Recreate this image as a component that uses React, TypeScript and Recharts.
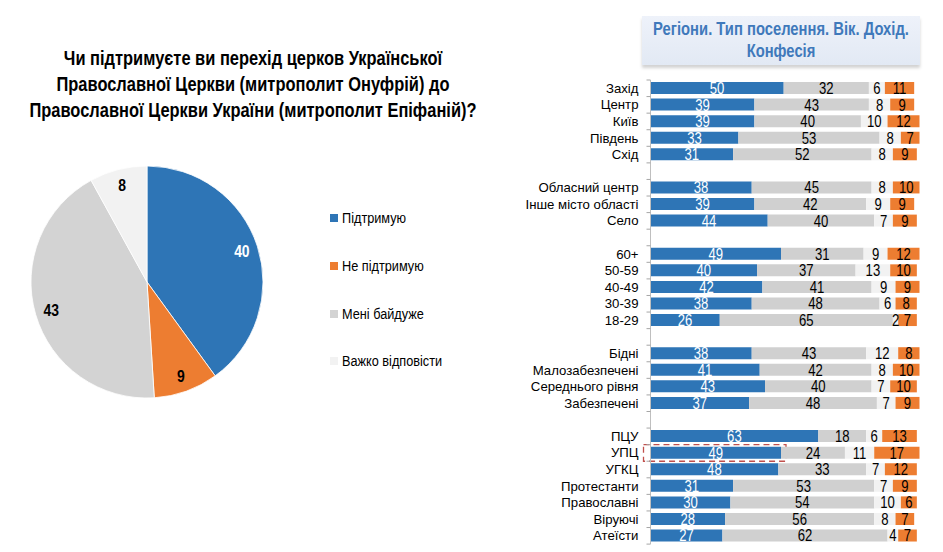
import React from "react";
import {
  BarChart,
  Bar,
  XAxis,
  YAxis,
  LabelList,
  ReferenceArea,
  PieChart,
  Pie,
  Cell,
  Legend,
} from "recharts";

// Pie: overall answers
const pieLabels = ["Підтримую", "Не підтримую", "Мені байдуже", "Важко відповісти"];
const pieValues = [40, 9, 43, 8];

// Bars: groups, empty string = spacer row
const categories = [
  "Захід", "Центр", "Київ", "Південь", "Схід", "",
  "Обласний центр", "Інше місто області", "Село", "",
  "60+", "50-59", "40-49", "30-39", "18-29", "",
  "Бідні", "Малозабезпечені", "Середнього рівня", "Забезпечені", "",
  "ПЦУ", "УПЦ", "УГКЦ", "Протестанти", "Православні", "Віруючі", "Атеїсти",
];
const support = [50, 39, 39, 33, 31, null, 38, 39, 44, null, 49, 40, 42, 38, 26, null, 38, 41, 43, 37, null, 63, 49, 48, 31, 30, 28, 27];
const indifferent = [32, 43, 40, 53, 52, null, 45, 42, 40, null, 31, 37, 41, 48, 65, null, 43, 42, 40, 48, null, 18, 24, 33, 53, 54, 56, 62];
const hardToSay = [6, 8, 10, 8, 8, null, 8, 9, 7, null, 9, 13, 9, 6, 2, null, 12, 8, 7, 7, null, 6, 11, 7, 7, 10, 8, 4];
const against = [11, 9, 12, 7, 9, null, 10, 9, 9, null, 12, 10, 9, 8, 7, null, 8, 10, 10, 9, null, 13, 17, 12, 9, 6, 7, 7];
const highlighted = "УПЦ";

const BLUE = "#2E75B6";
const ORANGE = "#ED7D31";
const GRAY = "#D0D0D0";
const LIGHT = "#F2F2F2";
const PIE_COLORS = [BLUE, ORANGE, "#D3D3D3", LIGHT];

// no narrow font installed: Liberation Sans squeezed horizontally instead
const SANS = "'Liberation Sans', Arial, sans-serif";
const SQUEEZE = 0.82;

const barData = categories.map((name, i) => ({
  id: name || `gap${i}`,
  name,
  support: support[i],
  indifferent: indifferent[i],
  hard: hardToSay[i],
  against: against[i],
}));

const pieData = pieLabels.map((name, i) => ({ name, value: pieValues[i] }));

const BAR_W = 443;
const BAR_H = 552;
const barMargin = { top: 80, right: 23.5, bottom: 7.9, left: 0 };
const band = (BAR_H - barMargin.top - barMargin.bottom) / categories.length;

function NarrowText(props: any) {
  const { x, y, fill, size, bold, children } = props;
  return (
    <text
      transform={`translate(${x},${y}) scale(${SQUEEZE},1)`}
      textAnchor="middle"
      dominantBaseline="central"
      fontSize={size}
      fontWeight={bold ? "bold" : "normal"}
      fontFamily={SANS}
      fill={fill}
    >
      {children}
    </text>
  );
}

function CategoryTick(props: any) {
  const { x, y, payload, index } = props;
  const row = barData.find((d) => d.id === payload.value);
  const half = band / 2;
  return (
    <g>
      {row && row.name ? (
        <text x={x} y={y} dy={4.5} textAnchor="end" fontSize={13.2} fontFamily={SANS} fill="#000">
          {row.name}
        </text>
      ) : null}
      <line x1={x + 8} x2={x + 12} y1={y - half} y2={y - half} stroke="#A6A6A6" />
      {index === categories.length - 1 ? (
        <line x1={x + 8} x2={x + 12} y1={y + half} y2={y + half} stroke="#A6A6A6" />
      ) : null}
    </g>
  );
}

const valueLabel = (fill: string) => (props: any) => {
  const vb = props.viewBox || props;
  if (props.value == null) return null;
  return (
    <NarrowText x={vb.x + vb.width / 2} y={vb.y + vb.height / 2 + 0.5} fill={fill} size={16}>
      {props.value}
    </NarrowText>
  );
};

const RADIAN = Math.PI / 180;
function PieLabel(props: any) {
  const { cx, cy, midAngle, outerRadius, value, index } = props;
  const r = outerRadius * 0.86;
  const x = cx + r * Math.cos(-midAngle * RADIAN);
  const y = cy + r * Math.sin(-midAngle * RADIAN);
  return (
    <NarrowText x={x} y={y} fill={index === 0 ? "#fff" : "#000"} size={17} bold>
      {value}
    </NarrowText>
  );
}

function PieLegend() {
  return (
    <div>
      {pieData.map((d, i) => (
        <div
          key={d.name}
          style={{ display: "flex", alignItems: "center", height: 20, marginBottom: 27.8 }}
        >
          <span style={{ width: 8, height: 8, background: PIE_COLORS[i], marginRight: 4 }} />
          <span
            style={{
              fontFamily: SANS,
              fontSize: 15.5,
              color: "#000",
              display: "inline-block",
              whiteSpace: "nowrap",
              transform: `scaleX(${SQUEEZE})`,
              transformOrigin: "left center",
            }}
          >
            {d.name}
          </span>
        </div>
      ))}
    </div>
  );
}

function HighlightBox(props: any) {
  const { x, y, width, height } = props;
  return (
    <rect
      x={x - 7}
      y={y}
      width={width + 12}
      height={height}
      fill="none"
      stroke="#C0504D"
      strokeWidth={1.3}
      strokeDasharray="6 4"
    />
  );
}

export default function App() {
  const upcRow = barData.find((d) => d.name === highlighted)!;
  return (
    <div style={{ position: "absolute", left: 0, top: 0, width: 943, height: 552, background: "#fff" }}>
      <div
        style={{
          position: "absolute",
          left: -47,
          top: 45,
          width: 600,
          textAlign: "center",
          whiteSpace: "nowrap",
          fontFamily: SANS,
          fontWeight: "bold",
          fontSize: 19.5,
          lineHeight: "26px",
          color: "#000",
          transform: "scaleX(0.843)",
          transformOrigin: "center",
        }}
      >
        Чи підтримуєте ви перехід церков Української
        <br />
        Православної Церкви (митрополит Онуфрій) до
        <br />
        Православної Церкви України (митрополит Епіфаній)?
      </div>

      <div style={{ position: "absolute", left: 0, top: 0 }}>
        <PieChart width={500} height={552} margin={{ top: 0, right: 0, bottom: 0, left: 0 }}>
          <Pie
            data={pieData}
            dataKey="value"
            nameKey="name"
            cx={147}
            cy={282}
            outerRadius={116}
            startAngle={90}
            endAngle={-270}
            stroke="#fff"
            strokeWidth={0.8}
            label={PieLabel}
            labelLine={false}
            isAnimationActive={false}
          >
            {pieData.map((d, i) => (
              <Cell key={d.name} fill={PIE_COLORS[i]} />
            ))}
          </Pie>
          <Legend
            content={<PieLegend />}
            layout="vertical"
            wrapperStyle={{ position: "absolute", left: 330, top: 208, width: 160 }}
          />
        </PieChart>
      </div>

      <div
        style={{
          position: "absolute",
          left: 642,
          top: 16,
          width: 278,
          height: 49,
          background: "linear-gradient(#EEF2FA, #E2E9F4)",
          boxShadow: "0 3px 3px rgba(0,0,0,0.18)",
        }}
      >
        <div
          style={{
            position: "absolute",
            left: -100,
            top: 3,
            width: 478,
            textAlign: "center",
            whiteSpace: "nowrap",
            fontFamily: SANS,
            fontWeight: "bold",
            fontSize: 17.5,
            lineHeight: "21.5px",
            color: "#3F79BB",
            transform: "scaleX(0.845)",
            transformOrigin: "center",
          }}
        >
          Регіони. Тип поселення. Вік. Дохід.
          <br />
          Конфесія
        </div>
      </div>

      <div style={{ position: "absolute", left: 500, top: 0 }}>
        <BarChart
          width={BAR_W}
          height={BAR_H}
          data={barData}
          layout="vertical"
          margin={barMargin}
          barSize={12}
        >
          <XAxis type="number" domain={[0, 101]} hide />
          <YAxis
            type="category"
            dataKey="id"
            width={150.5}
            interval={0}
            tickLine={false}
            tickSize={4}
            tickMargin={8}
            axisLine={{ stroke: "#BFBFBF" }}
            tick={<CategoryTick />}
          />
          <Bar dataKey="support" stackId="a" fill={BLUE} isAnimationActive={false}>
            <LabelList dataKey="support" content={valueLabel("#fff")} />
          </Bar>
          <Bar dataKey="indifferent" stackId="a" fill={GRAY} isAnimationActive={false}>
            <LabelList dataKey="indifferent" content={valueLabel("#000")} />
          </Bar>
          <Bar dataKey="hard" stackId="a" fill={LIGHT} isAnimationActive={false}>
            <LabelList dataKey="hard" content={valueLabel("#000")} />
          </Bar>
          <Bar dataKey="against" stackId="a" fill={ORANGE} isAnimationActive={false}>
            <LabelList dataKey="against" content={valueLabel("#000")} />
          </Bar>
          <ReferenceArea
            y1={upcRow.id}
            y2={upcRow.id}
            x1={0}
            x2={upcRow.support as number}
            ifOverflow="visible"
            shape={<HighlightBox />}
          />
        </BarChart>
      </div>
    </div>
  );
}
